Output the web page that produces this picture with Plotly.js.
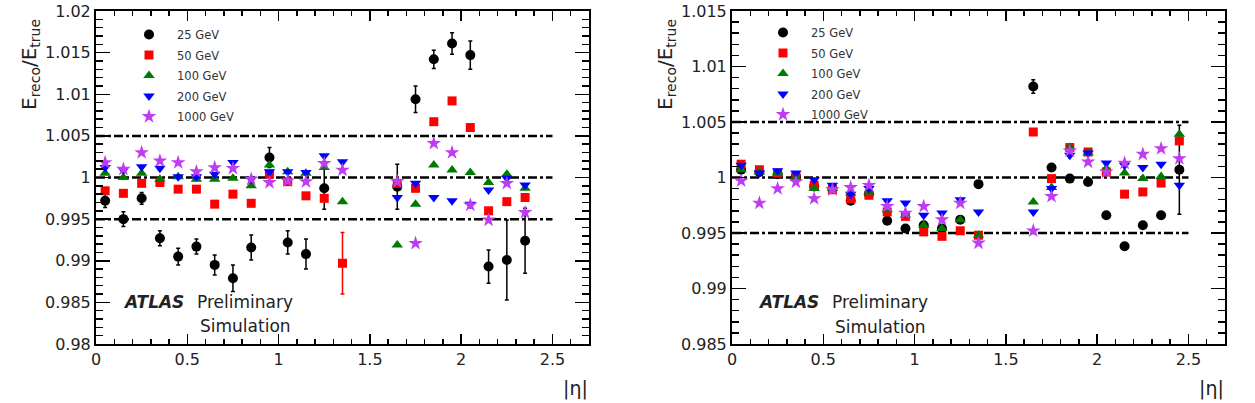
<!DOCTYPE html>
<html>
<head>
<meta charset="utf-8">
<script src="https://cdn.plot.ly/plotly-3.0.1.min.js"></script>
<style>
html,body{margin:0;padding:0;background:#fff;overflow:hidden;}
#wrap{position:relative;width:1255px;height:403px;overflow:hidden;}
#panelL{position:absolute;left:0;top:0;width:627px;height:403px;}
#panelR{position:absolute;left:636px;top:0;width:627px;height:403px;}
#panelRax{position:absolute;left:636px;top:0;width:627px;height:403px;pointer-events:none;}
</style>
</head>
<body>
<div id="wrap"><div id="panelL"></div><div id="panelR"></div><div id="panelRax"></div></div>
<script>
// |eta| bin centres
const eta = [0.05,0.15,0.25,0.35,0.45,0.55,0.65,0.75,0.85,0.95,1.05,1.15,1.25,1.35,1.45,1.55,1.65,1.75,1.85,1.95,2.05,2.15,2.25,2.35,2.45];
const seriesNames = ["25 GeV","50 GeV","100 GeV","200 GeV","1000 GeV"];

// Left panel values
const left25  = [0.9972,0.9950,0.9975,0.9927,0.9905,0.9917,0.9895,0.9879,0.9916,1.0024,0.9922,0.9908,0.9987,null,null,null,0.9989,1.0094,1.0142,1.0161,1.0147,0.9893,0.9901,0.9924,null];
const left25err = [0.0008,0.0009,0.0007,0.0009,0.0010,0.0009,0.0012,0.0016,0.0015,0.0012,0.0014,0.0018,0.0025,null,null,null,0.0027,0.0016,0.0011,0.0013,0.0017,0.0020,0.0048,0.0039,null];
const left50  = [0.9984,0.9981,0.9993,0.9994,0.9986,0.9986,0.9968,0.9980,0.9969,1.0004,0.9995,0.9978,0.9975,0.9897,null,null,0.9993,0.9987,1.0067,1.0092,1.0060,0.9960,0.9971,0.9976,null];
const left50err = [0,0,0,0,0,0,0,0,0,0,0,0,0,0.0037,null,null,0,0,0,0,0,0,0.0003,0.0003,null];
const left100 = [1.0005,1.0000,1.0005,0.9998,1.0001,0.9998,0.9998,0.9999,0.9990,1.0015,1.0007,1.0005,1.0012,0.9971,null,null,0.9919,0.9968,1.0015,1.0009,1.0006,0.9994,1.0004,0.9987,null];
const left200 = [1.0012,1.0009,1.0013,1.0011,1.0001,1.0001,1.0004,1.0018,0.9998,1.0007,1.0007,1.0006,1.0026,1.0019,null,null,0.9976,0.9993,0.9976,0.9972,0.9968,0.9985,0.9999,0.9991,null];
const left1000= [1.0018,1.0010,1.0030,1.0020,1.0018,1.0007,1.0012,1.0011,0.9998,0.9994,0.9996,0.9995,1.0017,1.0009,null,null,0.9995,0.9921,1.0041,1.0030,0.9967,0.9949,0.9993,0.9958,null];

// Right panel values
const right25  = [1.0007,1.0005,1.0003,1.0001,0.9992,0.9990,0.9979,0.9985,0.9961,0.9954,0.9957,0.9954,0.9962,0.9994,null,null,1.0082,1.0009,0.9999,0.9996,0.9966,0.9938,0.9957,0.9966,1.0007];
const right25err = [0.0002,0.0002,0.0002,0.0002,0.0002,0.0002,0.0002,0.0002,0.0002,0.0002,0.0002,0.0002,0.0002,0.0003,null,null,0.0006,0.0003,0.0002,0.0002,0.0002,0.0002,0.0002,0.0003,0.0040];
const right50  = [1.0012,1.0007,1.0004,1.0001,0.9993,0.9989,0.9981,0.9984,0.9969,0.9965,0.9951,0.9947,0.9952,0.9948,null,null,1.0041,0.9999,1.0027,1.0023,1.0005,0.9985,0.9987,0.9995,1.0033];
const right100 = [1.0007,1.0005,1.0004,1.0000,0.9990,0.9990,0.9986,0.9987,0.9971,0.9966,0.9957,0.9954,0.9962,0.9948,null,null,0.9978,0.9991,1.0027,1.0022,1.0008,1.0004,0.9999,1.0001,1.0039];
const right200 = [1.0011,1.0004,1.0006,1.0004,0.9998,0.9993,0.9985,0.9990,0.9979,0.9977,0.9966,0.9968,0.9980,0.9969,null,null,0.9969,0.9990,1.0020,1.0022,1.0013,1.0011,1.0009,1.0012,0.9993];
const right1000= [0.9997,0.9977,0.9990,0.9996,0.9981,0.9989,0.9991,0.9993,0.9974,0.9968,0.9974,0.9962,0.9977,0.9941,null,null,0.9952,0.9983,1.0024,1.0014,1.0005,1.0013,1.0021,1.0026,1.0017];

// Axis ranges and reference lines
const etaRange = [0, 2.7];
const leftYRange = [0.98, 1.02];
const rightYRange = [0.985, 1.015];
const refLevels = [0.995, 1.0, 1.005];
const refEtaRange = [0, 2.5];

const FONT = "DejaVu Sans, Liberation Sans, sans-serif";
const colors = ["#000000","#ff0000","#007a00","#0000ff","#c03cf0"];
const symbols = ["circle","square","triangle-up","triangle-down","star"];
const sizes = [10,9,10,10,11];
const H = 403;

function makeTraces(vals, errs){
  return vals.map((v,i)=>{
    const t = {
      type:"scatter", mode:"markers", x:eta, y:v, name:seriesNames[i],
      marker:{color:colors[i], symbol:symbols[i], size:sizes[i], line:{width:0}},
      hoverinfo:"x+y"
    };
    if(errs[i]) t.error_y = {type:"data", array:errs[i], visible:true, color:colors[i], thickness:1.5, width:2};
    return t;
  });
}

function axes(px, py, pos, yRange, showLabels){
  return {
    xaxis:{domain:[px(pos.x0), px(pos.x1)], range:etaRange, dtick:0.5, ticks:"inside", ticklen:10, tickwidth:1.5, tickcolor:"#000",
      showline:true, linecolor:"#000", linewidth:2, mirror:"allticks", showgrid:false, zeroline:false, showticklabels:showLabels,
      tickfont:{family:FONT, size:16, color:"#222"},
      minor:{dtick:0.1, ticks:"inside", ticklen:5, tickwidth:1.5, tickcolor:"#000", showgrid:false}},
    yaxis:{domain:[py(344), py(11)], range:yRange, dtick:0.005, ticks:"inside", ticklen:14, tickwidth:1.5, tickcolor:"#000",
      showline:true, linecolor:"#000", linewidth:2, mirror:"allticks", showgrid:false, zeroline:false, showticklabels:showLabels,
      tickfont:{family:FONT, size:16, color:"#222"},
      minor:{dtick:0.001, ticks:"inside", ticklen:7, tickwidth:1.5, tickcolor:"#000", showgrid:false}}
  };
}

function buildPanel(divId, offset, width, vals, errs, yRange, pos){
  const px = v => (v - offset)/width, py = v => 1 - v/H;
  const ann = (text, x, y, opts) => Object.assign({text:text, xref:"paper", yref:"paper", x:px(x), y:py(y), showarrow:false,
    xanchor:"left", yanchor:"middle", font:{family:FONT, size:17, color:"#222"}}, opts||{});
  const shapes = refLevels.map(l => ({type:"line", xref:"x", yref:"y", x0:refEtaRange[0], x1:refEtaRange[1], y0:l, y1:l,
      line:{color:"#000", width:2.5, dash:"9px,3px,3px,3px"}, layer:"below"}));
  const layout = Object.assign({
    width:width, height:H, margin:{l:0,r:0,t:0,b:0}, paper_bgcolor:"#fff", plot_bgcolor:"#fff",
    showlegend:true,
    legend:{xanchor:"left", yanchor:"top", x:px(pos.legX), y:py(pos.legY), bgcolor:"rgba(0,0,0,0)", borderwidth:0,
      font:{family:FONT, size:11.5, color:"#333"}, itemwidth:46, tracegroupgap:1.5},
    shapes:shapes,
    annotations:[
      ann("<b><i>ATLAS</i></b>", pos.atlasX, 302),
      ann("Preliminary", pos.atlasX + 74, 302),
      ann("Simulation", pos.atlasX + 77, pos.simY),
      ann("E<sub>reco</sub>/E<sub>true</sub>", pos.x0 - 66, 65, {textangle:-90, xanchor:"center", font:{family:FONT, size:20, color:"#222"}}),
      ann("|η|", pos.x1 + 1, 388, {xanchor:"right", font:{family:FONT, size:19, color:"#222"}})
    ]
  }, axes(px, py, pos, yRange, true));
  const traces = makeTraces(vals, errs).map((t,i)=>Object.assign(t,{legendgroup:divId+i}));
  return Plotly.newPlot(divId, traces, layout, {displayModeBar:false, staticPlot:true});
}

// transparent frame-only layer that re-draws the ticks of a panel on top
function buildFrame(divId, offset, width, yRange, pos){
  const px = v => (v - offset)/width, py = v => 1 - v/H;
  const layout = Object.assign({width:width, height:H, margin:{l:0,r:0,t:0,b:0},
    paper_bgcolor:"rgba(0,0,0,0)", plot_bgcolor:"rgba(0,0,0,0)", showlegend:false}, axes(px, py, pos, yRange, false));
  return Plotly.newPlot(divId, [{type:"scatter", mode:"markers", x:[], y:[], showlegend:false, hoverinfo:"skip"}], layout,
    {displayModeBar:false, staticPlot:true});
}

const posL = {x0:96, x1:589, legX:121, legY:20, atlasX:121, simY:326};
const posR = {x0:732, x1:1225, legX:755, legY:18, atlasX:756, simY:327};

buildPanel("panelL", 0, 627, [left25,left50,left100,left200,left1000], [left25err,left50err,null,null,null], leftYRange, posL);
buildPanel("panelR", 636, 627, [right25,right50,right100,right200,right1000], [right25err,null,null,null,null], rightYRange, posR);
buildFrame("panelRax", 636, 627, rightYRange, posR);
</script>
</body>
</html>
